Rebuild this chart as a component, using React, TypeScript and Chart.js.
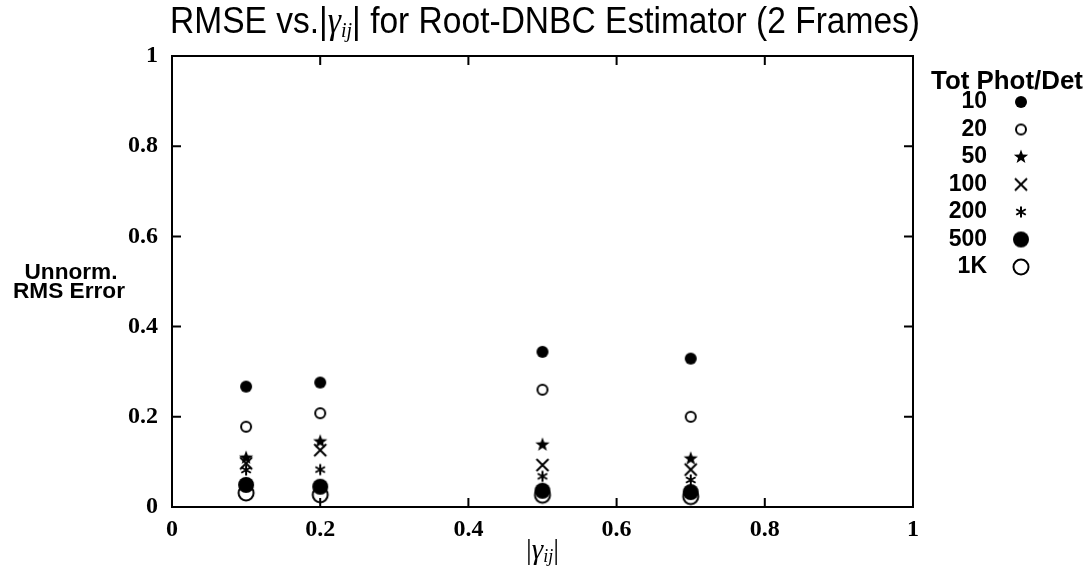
import React, { useEffect, useRef } from 'react';
import { Chart, registerables } from 'chart.js';

Chart.register(...registerables);

// ---- data ----
const gammaValues = [0.1, 0.2, 0.5, 0.7];
const photonLabels = ['10', '20', '50', '100', '200', '500', '1K'];
const rmse10 = [0.267, 0.276, 0.344, 0.329];
const rmse20 = [0.178, 0.208, 0.26, 0.2];
const rmse50 = [0.109, 0.145, 0.138, 0.107];
const rmse100 = [0.097, 0.126, 0.093, 0.083];
const rmse200 = [0.082, 0.083, 0.068, 0.06];
const rmse500 = [0.049, 0.045, 0.036, 0.033];
const rmse1K = [0.031, 0.027, 0.026, 0.023];
const seriesValues = [rmse10, rmse20, rmse50, rmse100, rmse200, rmse500, rmse1K];
const markerKinds = ['dotSmall', 'ringSmall', 'star5', 'cross', 'asterisk', 'dotBig', 'ringBig'];
const axisTicks = [0, 0.2, 0.4, 0.6, 0.8, 1];

function makeMarker(kind: string): HTMLCanvasElement {
  const size = 22;
  const c = document.createElement('canvas');
  c.width = size;
  c.height = size;
  const g = c.getContext('2d')!;
  g.translate(size / 2, size / 2);
  g.fillStyle = '#000';
  g.strokeStyle = '#000';
  g.lineWidth = 2;
  g.beginPath();
  if (kind === 'dotSmall') {
    g.arc(0, 0, 6, 0, Math.PI * 2);
    g.fill();
  } else if (kind === 'ringSmall') {
    g.arc(0, 0, 5, 0, Math.PI * 2);
    g.stroke();
  } else if (kind === 'star5') {
    for (let k = 0; k < 10; k++) {
      const r = k % 2 === 0 ? 7.5 : 3.1;
      const a = -Math.PI / 2 + (k * Math.PI) / 5;
      const px = r * Math.cos(a);
      const py = r * Math.sin(a);
      if (k === 0) g.moveTo(px, py);
      else g.lineTo(px, py);
    }
    g.closePath();
    g.fill();
  } else if (kind === 'cross') {
    g.moveTo(-6, -6);
    g.lineTo(6, 6);
    g.moveTo(6, -6);
    g.lineTo(-6, 6);
    g.stroke();
  } else if (kind === 'asterisk') {
    for (let k = 0; k < 3; k++) {
      const a = Math.PI / 2 + (k * Math.PI) / 3;
      g.moveTo(5.5 * Math.cos(a), 5.5 * Math.sin(a));
      g.lineTo(-5.5 * Math.cos(a), -5.5 * Math.sin(a));
    }
    g.stroke();
  } else if (kind === 'dotBig') {
    g.arc(0, 0, 8, 0, Math.PI * 2);
    g.fill();
  } else if (kind === 'ringBig') {
    g.arc(0, 0, 7.5, 0, Math.PI * 2);
    g.stroke();
  }
  return c;
}

function fitFont(ctx: CanvasRenderingContext2D, text: string, style: string, family: string, target: number) {
  ctx.font = `${style} 100px ${family}`;
  const w = ctx.measureText(text).width;
  const size = (100 * target) / w;
  return `${style} ${size.toFixed(2)}px ${family}`;
}

const fmt = (v: number) => Number(v.toFixed(1)).toString();

const decorPlugin = {
  id: 'decor',
  afterDraw(chart: any) {
    const ctx: CanvasRenderingContext2D = chart.ctx;
    const { left, right, top, bottom } = chart.chartArea;
    const xs = chart.scales.x;
    const ys = chart.scales.y;
    ctx.save();
    ctx.strokeStyle = '#000';
    ctx.fillStyle = '#000';
    // frame
    ctx.lineWidth = 2;
    ctx.strokeRect(left, top, right - left, bottom - top);
    // inward ticks
    ctx.beginPath();
    axisTicks.forEach((t) => {
      if (t === 0 || t === 1) return;
      const px = xs.getPixelForValue(t);
      const py = ys.getPixelForValue(t);
      ctx.moveTo(px, bottom);
      ctx.lineTo(px, bottom - 9);
      ctx.moveTo(px, top);
      ctx.lineTo(px, top + 9);
      ctx.moveTo(left, py);
      ctx.lineTo(left + 9, py);
      ctx.moveTo(right, py);
      ctx.lineTo(right - 9, py);
    });
    ctx.stroke();

    // title with math (condensed horizontally like the original sans face)
    const sans = '"Liberation Sans", sans-serif';
    const serif = '"Liberation Serif", serif';
    const titleSize = 37;
    const segs = [
      { t: 'RMSE vs.', f: `${titleSize}px ${sans}`, dy: 0 },
      { t: '|', f: `${titleSize}px ${sans}`, dy: 0 },
      { t: 'γ', f: `italic ${titleSize}px ${serif}`, dy: 0 },
      { t: 'ij', f: `italic ${Math.round(titleSize * 0.6)}px ${serif}`, dy: 8 },
      { t: '|', f: `${titleSize}px ${sans}`, dy: 0 },
      { t: ' for Root-DNBC Estimator (2 Frames)', f: `${titleSize}px ${sans}`, dy: 0 },
    ];
    let total = 0;
    segs.forEach((s) => {
      ctx.font = s.f;
      total += ctx.measureText(s.t).width;
    });
    const sx = 750 / total;
    ctx.textBaseline = 'middle';
    ctx.textAlign = 'left';
    ctx.save();
    ctx.translate(545 - 375, 23);
    ctx.scale(sx, 1);
    let cx = 0;
    segs.forEach((s) => {
      ctx.font = s.f;
      ctx.fillText(s.t, cx, s.dy);
      cx += ctx.measureText(s.t).width;
    });
    ctx.restore();

    // x axis title |γij|
    const xt = [
      { t: '|', f: `29px ${serif}`, dy: 0 },
      { t: 'γ', f: `italic 29px ${serif}`, dy: 0 },
      { t: 'ij', f: `italic 18px ${serif}`, dy: 6 },
      { t: '|', f: `29px ${serif}`, dy: 0 },
    ];
    let xw = 0;
    xt.forEach((s) => {
      ctx.font = s.f;
      xw += ctx.measureText(s.t).width;
    });
    let xx = (left + right) / 2 - xw / 2;
    xt.forEach((s) => {
      ctx.font = s.f;
      ctx.fillText(s.t, xx, 551 + s.dy);
      xx += ctx.measureText(s.t).width;
    });

    // y axis title
    ctx.textAlign = 'center';
    const yFont = fitFont(ctx, 'RMS Error', 'bold', sans, 112);
    ctx.font = yFont;
    ctx.fillText('Unnorm.', 71, 273);
    ctx.fillText('RMS Error', 69, 292);

    // legend
    ctx.textAlign = 'left';
    ctx.font = fitFont(ctx, 'Tot Phot/Det', 'bold', sans, 152);
    ctx.fillText('Tot Phot/Det', 931, 82);
    ctx.textAlign = 'right';
    ctx.font = `bold 23px ${sans}`;
    chart.data.datasets.forEach((ds: any, i: number) => {
      const y = 102 + i * 27.5;
      ctx.fillText(ds.label, 987, y);
      const img = ds.pointStyle as HTMLCanvasElement;
      ctx.drawImage(img, 1021 - img.width / 2, y - img.height / 2);
    });
    ctx.restore();
  },
};

export default function App() {
  const ref = useRef<HTMLCanvasElement>(null);
  useEffect(() => {
    if (!ref.current) return;
    const datasets = seriesValues.map((vals, i) => ({
      label: photonLabels[i],
      data: gammaValues.map((g, j) => ({ x: g, y: vals[j] })),
      pointStyle: makeMarker(markerKinds[i]),
      showLine: false,
      borderColor: '#000',
      backgroundColor: '#000',
    }));
    const serifFont = { family: '"Liberation Serif", serif', size: 24, weight: 'bold' as const };
    const chart = new Chart(ref.current, {
      type: 'scatter',
      data: { datasets },
      plugins: [decorPlugin],
      options: {
        responsive: false,
        animation: false,
        devicePixelRatio: 1,
        layout: { padding: { left: 72, right: 177, top: 56, bottom: 0 } },
        plugins: { legend: { display: false }, title: { display: false }, tooltip: { enabled: false } },
        scales: {
          x: {
            type: 'linear',
            min: 0,
            max: 1,
            afterBuildTicks: (s: any) => {
              s.ticks = axisTicks.map((v) => ({ value: v }));
            },
            afterFit: (s: any) => {
              s.height = 75;
            },
            grid: { display: false, drawTicks: false },
            border: { display: false },
            ticks: { color: '#000', font: serifFont, padding: 8, maxRotation: 0, callback: (v: any) => fmt(Number(v)) },
          },
          y: {
            type: 'linear',
            min: 0,
            max: 1,
            afterBuildTicks: (s: any) => {
              s.ticks = axisTicks.map((v) => ({ value: v }));
            },
            afterFit: (s: any) => {
              s.width = 100;
            },
            grid: { display: false, drawTicks: false },
            border: { display: false },
            ticks: { color: '#000', font: serifFont, padding: 14, callback: (v: any) => fmt(Number(v)) },
          },
        },
      },
    });
    return () => chart.destroy();
  }, []);
  return (
    <div style={{ position: 'absolute', left: 0, top: 0, width: 1090, height: 582, background: '#fff' }}>
      <canvas ref={ref} width={1090} height={582} style={{ display: 'block' }} />
    </div>
  );
}
